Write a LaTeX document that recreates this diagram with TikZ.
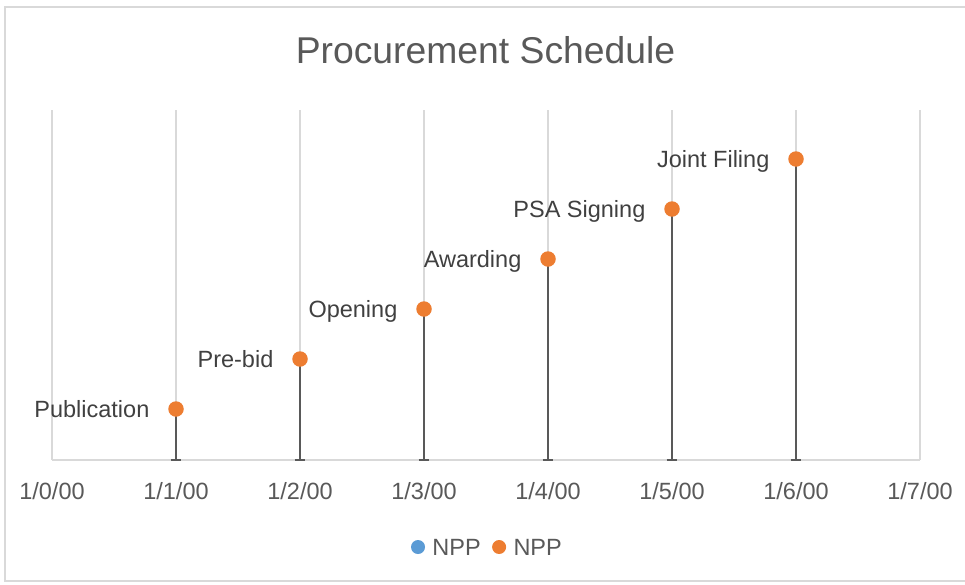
\documentclass[tikz,border=0pt]{standalone}
\usepackage{fontspec}
\setmainfont{Liberation Sans}
\usepackage{tikz}
\usetikzlibrary{positioning}
\usepackage{xcolor}
\definecolor{gridgray}{HTML}{D9D9D9}
\definecolor{textgray}{HTML}{595959}
\definecolor{labgray}{HTML}{404040}
\definecolor{dropgray}{HTML}{595959}
\definecolor{npporange}{HTML}{ED7D31}
\definecolor{nppblue}{HTML}{5B9BD5}

\begin{document}
\begin{tikzpicture}[x=1pt, y=-1pt,
    grid/.style={draw=gridgray, line width=1.3pt},
    dot/.style={circle, fill=#1, inner sep=0pt, minimum size=15.5pt},
    lab/.style={text=labgray, font=\fontsize{23.5}{26}\selectfont, inner sep=0pt, text height=16.8pt, text depth=0pt},
    tick/.style={text=textgray, font=\fontsize{23.5}{26}\selectfont, inner sep=0pt, text height=16.8pt, text depth=0pt},
    drop/.style={draw=dropgray, line width=2pt}]
            \useasboundingbox (0, 0) rectangle (965, 584);
            \draw[draw=gridgray, line width=1.5pt] (5, 7) rectangle (980, 581);

            \node[text=textgray, font=\fontsize{37.3}{40}\selectfont, inner sep=0pt] (title) at (485.5, 50) {Procurement Schedule};

            % grid and axis
            \draw[grid] (52, 110) -- (52, 460);
            \draw[grid] (176, 110) -- (176, 460);
            \draw[grid] (300, 110) -- (300, 460);
            \draw[grid] (424, 110) -- (424, 460);
            \draw[grid] (548, 110) -- (548, 460);
            \draw[grid] (672, 110) -- (672, 460);
            \draw[grid] (796, 110) -- (796, 460);
            \draw[grid] (920, 110) -- (920, 460);
            \draw[grid] (52, 460) -- (920, 460);

            \node[tick] (t0) at (52, 491) {1/0/00};
            \node[tick] (t1) at (176, 491) {1/1/00};
            \node[tick] (t2) at (300, 491) {1/2/00};
            \node[tick] (t3) at (424, 491) {1/3/00};
            \node[tick] (t4) at (548, 491) {1/4/00};
            \node[tick] (t5) at (672, 491) {1/5/00};
            \node[tick] (t6) at (796, 491) {1/6/00};
            \node[tick] (t7) at (920, 491) {1/7/00};

            % axis feet of the drop lines
            \coordinate (f1) at (176, 460);
            \coordinate (f2) at (300, 460);
            \coordinate (f3) at (424, 460);
            \coordinate (f4) at (548, 460);
            \coordinate (f5) at (672, 460);
            \coordinate (f6) at (796, 460);

            \draw[drop] (176, 409) -- (f1);
            \draw[drop] (300, 359) -- (f2);
            \draw[drop] (424, 309) -- (f3);
            \draw[drop] (548, 259) -- (f4);
            \draw[drop] (672, 209) -- (f5);
            \draw[drop] (796, 159) -- (f6);
            \draw[drop] ([xshift=-5.3]f1) -- ([xshift=5.3]f1);
            \draw[drop] ([xshift=-5.3]f2) -- ([xshift=5.3]f2);
            \draw[drop] ([xshift=-5.3]f3) -- ([xshift=5.3]f3);
            \draw[drop] ([xshift=-5.3]f4) -- ([xshift=5.3]f4);
            \draw[drop] ([xshift=-5.3]f5) -- ([xshift=5.3]f5);
            \draw[drop] ([xshift=-5.3]f6) -- ([xshift=5.3]f6);

            \node[dot=npporange] (p1) at (176, 409) {};
            \node[dot=npporange] (p2) at (300, 359) {};
            \node[dot=npporange] (p3) at (424, 309) {};
            \node[dot=npporange] (p4) at (548, 259) {};
            \node[dot=npporange] (p5) at (672, 209) {};
            \node[dot=npporange] (p6) at (796, 159) {};

            \node[lab, left=18.5pt of p1] (l1) {Publication};
            \node[lab, left=18.5pt of p2] (l2) {Pre-bid};
            \node[lab, left=18.5pt of p3] (l3) {Opening};
            \node[lab, left=18.5pt of p4] (l4) {Awarding};
            \node[lab, left=18.5pt of p5] (l5) {PSA Signing};
            \node[lab, left=18.5pt of p6] (l6) {Joint Filing};

            % legend
            \node[dot=nppblue, minimum size=14pt] (k1) at (418, 547) {};
            \node[tick, right=7pt of k1] (n1) {NPP};
            \node[dot=npporange, minimum size=14pt, right=11pt of n1] (k2) {};
            \node[tick, right=7pt of k2] (n2) {NPP};
        \end{tikzpicture}
\end{document}
